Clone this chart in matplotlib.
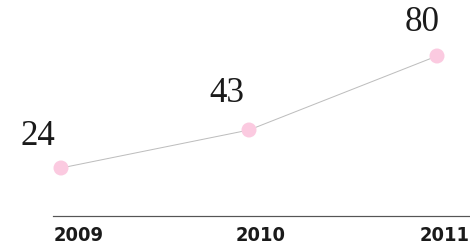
import matplotlib
matplotlib.use("Agg")
import matplotlib.pyplot as plt

years = [2009, 2010, 2011]
values = [24, 43, 80]
value_labels = ["24", "43", "80"]
year_labels = ["2009", "2010", "2011"]

W, H, DPI = 470, 244, 72
fig = plt.figure(figsize=(W / DPI, H / DPI), dpi=DPI)
ax = fig.add_axes([0, 0, 1, 1])
ax.set_xlim(2009 - 61 / 188, 2011 + 33 / 188)
ax.set_ylim(-14, 108)
ax.axis("off")

ax.plot(years, values, color="#bdbdbd", lw=1, zorder=1)
ax.scatter(years, values, s=15 ** 2, color="#fbcae0", edgecolors="none", zorder=2)

# value labels (offset in points == pixels at 72 dpi)
offsets = [(-23, 15), (-22, 20), (-15, 17)]
for x, v, lab, off in zip(years, values, value_labels, offsets):
    ax.annotate(lab, (x, v), xytext=off, textcoords="offset points",
                ha="center", va="bottom", fontsize=35,
                family=["Liberation Serif", "DejaVu Serif"], color="#1a1a1a")

# baseline
ax.axhline(0, xmin=53 / W, xmax=1, color="#555555", lw=1.2)

# year labels
yoffs = [(-7, "left"), (12, "center"), (33, "right")]
for x, lab, (dx, ha) in zip(years, year_labels, yoffs):
    ax.annotate(lab, (x, 0), xytext=(dx, -25), textcoords="offset points",
                ha=ha, va="baseline", fontsize=20, fontweight="bold",
                fontstretch="condensed",
                family=["DejaVu Sans"], color="#1a1a1a")

fig.savefig("out.png", dpi=DPI)
